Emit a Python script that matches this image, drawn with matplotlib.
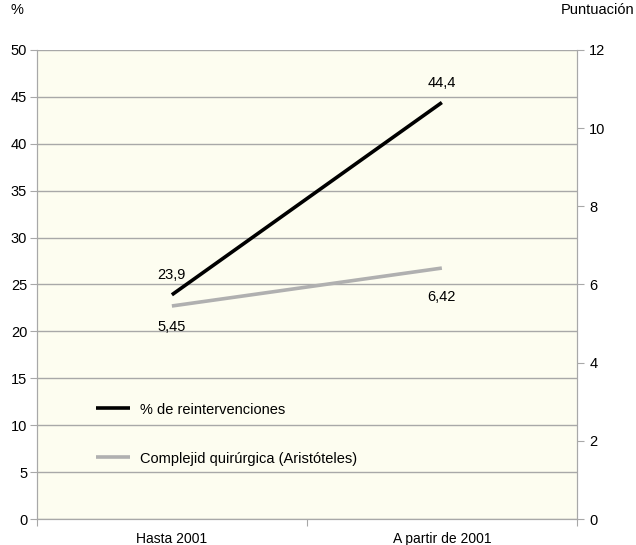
import matplotlib
matplotlib.use("Agg")
from matplotlib import pyplot as plt
import numpy as np

plt.rcParams['font.family'] = ['Liberation Sans', 'DejaVu Sans']

categories = ["Hasta 2001", "A partir de 2001"]
reintervenciones = [23.9, 44.4]
complejidad = [5.45, 6.42]
reint_labels = ["23,9", "44,4"]
compl_labels = ["5,45", "6,42"]
compl_offsets = [-10, -16]

bg = "#fdfdf0"
grid_c = "#a8a8a8"

fig = plt.figure(figsize=(6.36, 5.45), dpi=100)
ax = fig.add_axes([0.058, 0.0477, 0.849, 0.8606])
ax.set_facecolor(bg)
ax2 = ax.twinx()

x = np.arange(len(categories))
ax.plot(x, reintervenciones, color="black", lw=2.6, solid_capstyle="butt",
        label="% de reintervenciones", zorder=3)
ax2.plot(x, complejidad, color="#b0b0b0", lw=2.6, solid_capstyle="butt",
         label="Complejid quirúrgica (Aristóteles)", zorder=3)

ax.set_xlim(-0.5, 1.5)
ax.set_ylim(0, 50)
ax2.set_ylim(0, 12)
ax.set_yticks(np.arange(0, 51, 5))
ax2.set_yticks(np.arange(0, 13, 2))
ax.set_xticks([-0.5, 0.5, 1.5])
ax.set_xticklabels([])
ax.set_xticks(x, minor=True)
ax.set_xticklabels(categories, minor=True)
ax.tick_params(axis="x", which="minor", length=0, pad=9, labelsize=10)
ax.tick_params(axis="x", which="major", length=5, color=grid_c)
ax.tick_params(axis="y", length=5, color=grid_c, labelsize=10.5, pad=2)
ax2.tick_params(axis="y", length=5, color=grid_c, labelsize=10.5, pad=4)

ax.yaxis.grid(True, color=grid_c, lw=1)
ax.set_axisbelow(True)
for a in (ax, ax2):
    a.spines["top"].set_visible(False)
    for s in ("left", "right", "bottom"):
        a.spines[s].set_color(grid_c)

for xi, v, t in zip(x, reintervenciones, reint_labels):
    ax.annotate(t, (xi, v), xytext=(0, 9), textcoords="offset points",
                ha="center", va="bottom", fontsize=10.5)
for xi, v, t, off in zip(x, complejidad, compl_labels, compl_offsets):
    ax2.annotate(t, (xi, v), xytext=(0, off), textcoords="offset points",
                 ha="center", va="top", fontsize=10.5)

fig.text(0.016, 0.982, "%", fontsize=10.5, va="center")
fig.text(0.998, 0.982, "Puntuación", fontsize=10.5, va="center", ha="right")

h1, l1 = ax.get_legend_handles_labels()
h2, l2 = ax2.get_legend_handles_labels()
ax2.legend(h1 + h2, l1 + l2, loc="lower left", bbox_to_anchor=(0.086, 0.086),
           frameon=False, fontsize=10.5, handlelength=2.3, labelspacing=2.4,
           handletextpad=0.7)

fig.savefig("out.png", dpi=100)
